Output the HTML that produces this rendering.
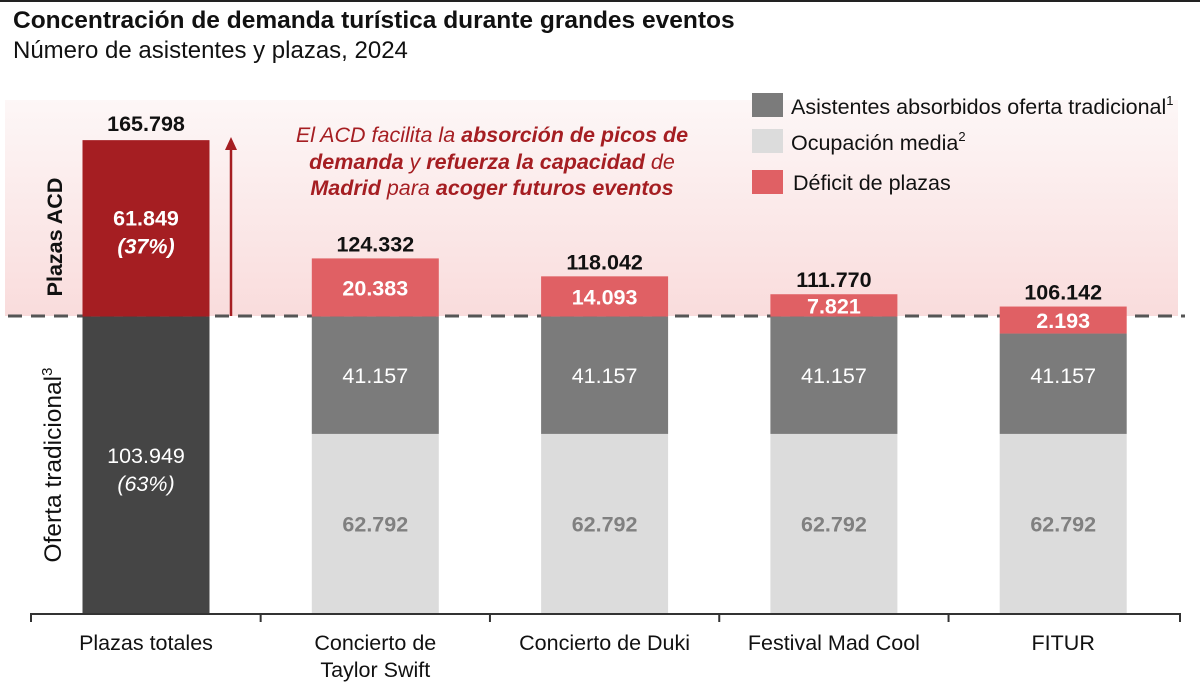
<!DOCTYPE html>
<html><head><meta charset="utf-8"><style>
html,body{margin:0;padding:0;background:#fff;}
svg{display:block;font-family:"Liberation Sans",Arial,sans-serif;}
</style></head><body>
<svg id="chart" width="1200" height="689" viewBox="0 0 1200 689">
<defs>
<linearGradient id="pinkband" x1="0" y1="0" x2="0" y2="1">
<stop offset="0" stop-color="#fdf7f7"/>
<stop offset="1" stop-color="#f9dcdc"/>
</linearGradient>
</defs>
<rect x="0" y="0" width="1200" height="2" fill="#222"/>
<text x="13" y="28" font-size="24.5" font-weight="bold" fill="#111">Concentración de demanda turística durante grandes eventos</text>
<text x="13" y="58" font-size="24" fill="#111">Número de asistentes y plazas, 2024</text>
<rect x="5" y="100" width="1173" height="216" fill="url(#pinkband)"/>
<line x1="8" y1="316" x2="1185" y2="316" stroke="#555" stroke-width="3" stroke-dasharray="14,9"/>
<g id="bars"></g>
<line x1="231" y1="316" x2="231" y2="146" stroke="#a51e22" stroke-width="2.5"/>
<polygon points="225,150 237,150 231,137" fill="#a51e22"/>
<g font-size="21.5" font-style="italic" fill="#a51e22" text-anchor="middle">
<text x="492" y="142">El ACD facilita la <tspan font-weight="bold">absorción de picos de</tspan></text>
<text x="492" y="169"><tspan font-weight="bold">demanda</tspan> y <tspan font-weight="bold">refuerza la capacidad</tspan> de</text>
<text x="492" y="195"><tspan font-weight="bold">Madrid</tspan> para <tspan font-weight="bold">acoger futuros eventos</tspan></text>
</g>
<text transform="translate(62,237) rotate(-90)" text-anchor="middle" font-size="21.5" font-weight="bold" fill="#111">Plazas ACD</text>
<text transform="translate(61,465) rotate(-90)" text-anchor="middle" font-size="24.5" fill="#111">Oferta tradicional<tspan font-size="15" dy="-9">3</tspan></text>
<g>
<rect x="752" y="93" width="31" height="24" fill="#7b7b7b"/>
<text x="791" y="114" font-size="21.5" fill="#111">Asistentes absorbidos oferta tradicional<tspan font-size="13" dy="-9">1</tspan></text>
<rect x="752" y="129" width="31" height="24" fill="#dcdcdc"/>
<text x="791" y="150" font-size="21.5" fill="#111">Ocupación media<tspan font-size="13" dy="-9">2</tspan></text>
<rect x="752" y="170" width="31" height="24" fill="#e06064"/>
<text x="793" y="190" font-size="21.5" fill="#111">Déficit de plazas</text>
</g>
<g id="axis"></g>
</svg>
<script>
const categories = ["Plazas totales", "Concierto de|Taylor Swift", "Concierto de Duki", "Festival Mad Cool", "FITUR"];
const ocupacion = [0, 62792, 62792, 62792, 62792];
const absorbidos = [0, 41157, 41157, 41157, 41157];
const deficit = [0, 20383, 14093, 7821, 2193];
const totals = [165798, 124332, 118042, 111770, 106142];
const ofertaTotal = 103949;
const acdTotal = 61849;
const totalLabels = ["165.798", "124.332", "118.042", "111.770", "106.142"];
const deficitLabels = ["", "20.383", "14.093", "7.821", "2.193"];
const absorbidosLabels = ["", "41.157", "41.157", "41.157", "41.157"];
const ocupacionLabels = ["", "62.792", "62.792", "62.792", "62.792"];

const NS = "http://www.w3.org/2000/svg";
const baseY = 613, scale = 0.002852;
const y = v => baseY - v * scale;
const xCenter = i => 146 + i * 229.3;
const barW = 127;
const FS = 21.5;
const g = document.getElementById('bars');
const ax = document.getElementById('axis');
function mk(tag, attrs, parent) {
  const e = document.createElementNS(NS, tag);
  for (const k in attrs) e.setAttribute(k, attrs[k]);
  parent.appendChild(e);
  return e;
}
function txt(x, yy, s, size, fill, weight, style, parent) {
  const t = mk('text', {x: x, y: yy, 'font-size': size, fill: fill, 'text-anchor': 'middle', 'font-weight': weight || 'normal', 'font-style': style || 'normal'}, parent);
  t.textContent = s;
  return t;
}
function rectPx(i, top, bottom, fill, name) {
  const r = mk('rect', {x: xCenter(i) - barW / 2, y: top, width: barW, height: bottom - top, fill: fill}, g);
  
  
  return r;
}
rectPx(0, y(ofertaTotal), y(0), '#454545', 'bar-oferta-tradicional');
rectPx(0, y(ofertaTotal + acdTotal), y(ofertaTotal), '#a51e22', 'bar-plazas-acd');
let cx = xCenter(0);
let t = txt(cx, (y(0) + y(ofertaTotal)) / 2 - 2, '103.949', FS, '#fff', 'normal', 'normal', g);


t = txt(cx, (y(0) + y(ofertaTotal)) / 2 + 26, '(63%)', FS, '#fff', 'normal', 'italic', g);


const acdMid = (y(ofertaTotal) + y(ofertaTotal + acdTotal)) / 2;
t = txt(cx, acdMid - 3, '61.849', FS, '#fff', 'bold', 'normal', g);


t = txt(cx, acdMid + 25, '(37%)', FS, '#fff', 'bold', 'italic', g);


t = txt(cx, y(totals[0]) - 9, totalLabels[0], FS, '#111', 'bold', 'normal', g);


for (let i = 1; i < categories.length; i++) {
  const a = ocupacion[i], b = a + absorbidos[i], c = b + deficit[i];
  let dTop = y(c), dBot = y(b);
  if (dBot - dTop < 20) { dTop = y(b) - 10; dBot = dTop + 27; }
  rectPx(i, y(a), y(0), '#dcdcdc', 'bar-ocupacion-media');
  rectPx(i, dBot, y(a), '#7b7b7b', 'bar-absorbidos');
  rectPx(i, dTop, dBot, '#e06064', 'bar-deficit');
  cx = xCenter(i);
  t = txt(cx, (y(0) + y(a)) / 2 + 8, ocupacionLabels[i], FS, '#808080', 'bold', 'normal', g);
  
  
  t = txt(cx, (y(b) + y(a)) / 2 + 8, absorbidosLabels[i], FS, '#fff', 'normal', 'normal', g);
  
  
  t = txt(cx, (dTop + dBot) / 2 + 8, deficitLabels[i], FS, '#fff', 'bold', 'normal', g);
  
  
  t = txt(cx, dTop - 7, totalLabels[i], FS, '#111', 'bold', 'normal', g);
  
  
}
let l = mk('line', {x1: 31, y1: baseY + 1, x2: 1180, y2: baseY + 1, stroke: '#333', 'stroke-width': 2}, ax);


for (let k = 0; k <= categories.length; k++) {
  const tx = k === 0 ? 31 : (k === categories.length ? 1180 : (xCenter(k - 1) + xCenter(k)) / 2);
  const tk = mk('line', {x1: tx, y1: baseY, x2: tx, y2: baseY + 9, stroke: '#333', 'stroke-width': 2}, ax);
  
  
}
categories.forEach((c, i) => {
  const lines = c.split('|');
  lines.forEach((s, j) => {
    const tl = txt(xCenter(i), 650 + j * 27, s, FS, '#111', 'normal', 'normal', ax);
    
    
  });
});
</script>
</body></html>
